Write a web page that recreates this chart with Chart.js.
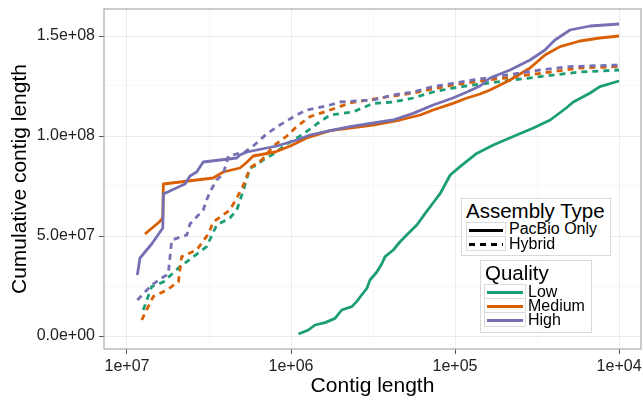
<!DOCTYPE html>
<html>
<head>
<meta charset="utf-8">
<script src="https://cdn.jsdelivr.net/npm/chart.js@4.4.1/dist/chart.umd.min.js"></script>
<style>
    body { margin: 0; background: #fff; }
    #wrap { position: relative; width: 643px; height: 400px; font-family: "Liberation Sans", Arial, sans-serif; }
    .lg-box { position: absolute; border: 1px solid #d9d9d9; background: #fff; }
    .lg-title { position: absolute; font-size: 20.5px; color: #000; white-space: nowrap; line-height: 1; }
    .lg-key { position: absolute; border: 1px solid #dcdcdc; box-sizing: border-box; }
    .lg-label { position: absolute; font-size: 16px; color: #000; white-space: nowrap; line-height: 1; }
</style>
</head>
<body>
<div id="wrap">
    <canvas id="chart" width="643" height="400"></canvas>

    <div class="lg-box" style="left:461px;top:198px;width:148px;height:56px;"></div>
    <div class="lg-title" style="left:466px;top:201px;">Assembly Type</div>
    <div class="lg-key" style="left:466px;top:222px;width:40px;height:15px;">
        <svg width="38" height="13"><line x1="2" y1="6.5" x2="36" y2="6.5" stroke="#000" stroke-width="2.8"/></svg>
    </div>
    <div class="lg-key" style="left:466px;top:236px;width:40px;height:15px;">
        <svg width="38" height="13"><line x1="2" y1="6.5" x2="36" y2="6.5" stroke="#000" stroke-width="2.8" stroke-dasharray="6,5"/></svg>
    </div>
    <div class="lg-label" style="left:509px;top:221px;">PacBio Only</div>
    <div class="lg-label" style="left:509px;top:236px;">Hybrid</div>

    <div class="lg-box" style="left:480px;top:260px;width:110px;height:71px;"></div>
    <div class="lg-title" style="left:485px;top:263px;">Quality</div>
    <div class="lg-key" style="left:484px;top:284px;width:42px;height:15px;">
        <svg width="40" height="13"><line x1="2" y1="6.5" x2="38" y2="6.5" stroke="#1B9E77" stroke-width="2.8"/></svg>
    </div>
    <div class="lg-key" style="left:484px;top:298px;width:42px;height:15px;">
        <svg width="40" height="13"><line x1="2" y1="6.5" x2="38" y2="6.5" stroke="#D95F02" stroke-width="2.8"/></svg>
    </div>
    <div class="lg-key" style="left:484px;top:312px;width:42px;height:15px;">
        <svg width="40" height="13"><line x1="2" y1="6.5" x2="38" y2="6.5" stroke="#7570B3" stroke-width="2.8"/></svg>
    </div>
    <div class="lg-label" style="left:528px;top:284px;">Low</div>
    <div class="lg-label" style="left:528px;top:298px;">Medium</div>
    <div class="lg-label" style="left:528px;top:312px;">High</div>
</div>

<script>
// [contig length, cumulative contig length]
var lowPacbio = [
    [9.0e5, 1.0e6], [7.84e5, 3.0e6], [7.14e5, 5.5e6], [6.2e5, 6.7e6], [5.39e5, 8.8e6],
    [4.91e5, 1.3e7], [4.26e5, 1.47e7], [3.98e5, 1.72e7], [3.71e5, 2.05e7], [3.45e5, 2.38e7],
    [3.3e5, 2.8e7], [3.0e5, 3.2e7], [2.8e5, 3.6e7], [2.67e5, 3.97e7], [2.38e5, 4.3e7],
    [2.17e5, 4.7e7], [1.93e5, 5.13e7], [1.71e5, 5.55e7], [1.52e5, 6.13e7], [1.32e5, 6.8e7],
    [1.23e5, 7.13e7], [1.07e5, 8.05e7], [9.32e4, 8.47e7], [7.38e4, 9.13e7], [5.84e4, 9.55e7],
    [4.21e4, 1.005e8], [3.33e4, 1.04e8], [2.63e4, 1.08e8], [2.1e4, 1.14e8], [1.9e4, 1.17e8],
    [1.5e4, 1.215e8], [1.31e4, 1.247e8], [1.0e4, 1.275e8]
];
var mediumPacbio = [
    [7.77e6, 5.1e7], [6.36e6, 5.7e7], [6.05e6, 5.9e7], [6.0e6, 7.6e7], [2.98e6, 7.9e7],
    [2.59e6, 8.2e7], [2.05e6, 8.4e7], [1.91e6, 8.6e7], [1.7e6, 9.0e7], [1.25e6, 9.2e7],
    [1.01e6, 9.5e7], [8.02e5, 9.9e7], [5.78e5, 1.027e8], [3.16e5, 1.055e8], [2.17e5, 1.08e8],
    [1.63e5, 1.105e8], [1.36e5, 1.13e8], [1.03e5, 1.163e8], [8.45e4, 1.19e8], [7.04e4, 1.21e8],
    [6.12e4, 1.23e8], [4.62e4, 1.28e8], [3.49e4, 1.34e8], [2.83e4, 1.405e8], [2.29e4, 1.447e8],
    [1.73e4, 1.475e8], [1.31e4, 1.49e8], [1.0e4, 1.5e8]
];
var highPacbio = [
    [8.65e6, 3.05e7], [8.33e6, 3.9e7], [7.07e6, 4.6e7], [6.29e6, 5.2e7], [6.05e6, 5.4e7],
    [6.0e6, 7.1e7], [4.43e6, 7.6e7], [4.13e6, 8.0e7], [3.76e6, 8.2e7], [3.43e6, 8.7e7],
    [2.14e6, 8.9e7], [2.05e6, 9.05e7], [1.86e6, 9.2e7], [1.22e6, 9.5e7], [9.23e5, 9.8e7],
    [7.66e5, 1.005e8], [5.78e5, 1.027e8], [4.37e5, 1.047e8], [2.87e5, 1.07e8], [2.39e5, 1.08e8],
    [1.8e5, 1.113e8], [1.36e5, 1.155e8], [1.03e5, 1.19e8], [8.45e4, 1.22e8], [7.04e4, 1.25e8],
    [6.12e4, 1.29e8], [4.62e4, 1.33e8], [3.49e4, 1.38e8], [2.83e4, 1.43e8], [2.46e4, 1.48e8],
    [1.99e4, 1.53e8], [1.5e4, 1.55e8], [1.0e4, 1.56e8]
];
var lowHybrid = [
    [7.96e6, 1.3e7], [7.07e6, 2.47e7], [6.01e6, 2.7e7], [4.75e6, 3.47e7], [4.03e6, 3.9e7],
    [3.27e6, 4.47e7], [2.84e6, 5.55e7], [2.36e6, 5.9e7], [2.14e6, 6.3e7], [1.95e6, 7.3e7],
    [1.78e6, 8.4e7], [1.62e6, 8.55e7], [1.48e6, 8.8e7], [1.28e6, 9.1e7], [1.06e6, 9.6e7],
    [8.41e5, 1.01e8], [6.97e5, 1.06e8], [5.78e5, 1.105e8], [4.19e5, 1.12e8], [3.16e5, 1.163e8],
    [2.39e5, 1.17e8], [1.8e5, 1.19e8], [1.36e5, 1.22e8], [1.03e5, 1.24e8], [7.77e4, 1.255e8],
    [3.03e4, 1.297e8], [1.73e4, 1.32e8], [1.0e4, 1.33e8]
];
var mediumHybrid = [
    [8.13e6, 8.0e6], [6.92e6, 1.97e7], [5.73e6, 2.3e7], [4.86e6, 2.7e7], [4.64e6, 3.97e7],
    [3.76e6, 4.3e7], [3.19e6, 5.1e7], [2.98e6, 5.7e7], [2.36e6, 6.3e7], [2.14e6, 6.9e7],
    [1.95e6, 7.55e7], [1.78e6, 8.4e7], [1.51e6, 8.8e7], [1.28e6, 9.5e7], [1.06e6, 1.0e8],
    [9.23e5, 1.047e8], [7.66e5, 1.097e8], [5.78e5, 1.13e8], [4.37e5, 1.165e8], [2.87e5, 1.19e8],
    [1.8e5, 1.215e8], [1.03e5, 1.255e8], [7.77e4, 1.27e8], [3.03e4, 1.313e8], [1.73e4, 1.34e8],
    [1.0e4, 1.347e8]
];
var highHybrid = [
    [8.65e6, 1.8e7], [7.07e6, 2.55e7], [6.14e6, 2.9e7], [5.6e6, 3.1e7], [5.34e6, 4.8e7],
    [4.32e6, 5.05e7], [4.13e6, 5.6e7], [3.43e6, 6.3e7], [3.27e6, 6.8e7], [3.12e6, 7.2e7],
    [2.84e6, 7.8e7], [2.59e6, 8.1e7], [2.41e6, 9.0e7], [1.91e6, 9.2e7], [1.7e6, 9.5e7],
    [1.41e6, 1.01e8], [1.17e6, 1.055e8], [9.23e5, 1.105e8], [8.02e5, 1.13e8], [5.78e5, 1.155e8],
    [5.03e5, 1.17e8], [3.16e5, 1.18e8], [2.39e5, 1.205e8], [1.8e5, 1.22e8], [1.36e5, 1.247e8],
    [1.03e5, 1.263e8], [7.77e4, 1.28e8], [3.03e4, 1.33e8], [1.99e4, 1.347e8], [1.0e4, 1.355e8]
];

var xTicks = [1e7, 1e6, 1e5, 1e4];
var xTickLabels = ['1e+07', '1e+06', '1e+05', '1e+04'];
var yTicks = [0, 5e7, 1e8, 1.5e8];
var yTickLabels = ['0.0e+00', '5.0e+07', '1.0e+08', '1.5e+08'];

var qualityColors = { low: '#1B9E77', medium: '#D95F02', high: '#7570B3' };

(function () {
    function toPoints(rows) {
        return rows.map(function (r) {
            return { x: r[0], y: r[1] };
        });
    }

    function series(label, rows, color, dashed, order) {
        return {
            label: label,
            data: toPoints(rows),
            borderColor: color,
            backgroundColor: color,
            borderWidth: 2.8,
            borderDash: dashed ? [6, 5] : [],
            borderJoinStyle: 'round',
            pointRadius: 0,
            tension: 0,
            fill: false,
            order: order,
        };
    }

    function isMajorX(v) {
        return xTicks.indexOf(v) !== -1;
    }
    function isMajorY(v) {
        return yTicks.indexOf(v) !== -1;
    }

    // minor breaks sit halfway between majors, like ggplot
    var xAll = [];
    xTicks.forEach(function (v, i) {
        xAll.push(v);
        if (i < xTicks.length - 1) xAll.push(Math.sqrt(v * xTicks[i + 1]));
    });
    xAll.sort(function (a, b) { return a - b; });
    var yAll = [];
    yTicks.forEach(function (v, i) {
        yAll.push(v);
        if (i < yTicks.length - 1) yAll.push((v + yTicks[i + 1]) / 2);
    });

    var panelBorder = {
        id: 'panelBorder',
        afterDatasetsDraw: function (chart) {
            var a = chart.chartArea;
            var ctx = chart.ctx;
            ctx.save();
            ctx.strokeStyle = '#ababab';
            ctx.lineWidth = 1.2;
            ctx.strokeRect(a.left, a.top, a.right - a.left, a.bottom - a.top);
            ctx.restore();
        },
    };

    var tickFont = { family: '"Liberation Sans", Arial, sans-serif', size: 16 };
    var titleFont = { family: '"Liberation Sans", Arial, sans-serif', size: 21 };

    new Chart(document.getElementById('chart'), {
        type: 'line',
        data: {
            datasets: [
                series('Low PacBio Only', lowPacbio, qualityColors.low, false, 5),
                series('Medium PacBio Only', mediumPacbio, qualityColors.medium, false, 3),
                series('High PacBio Only', highPacbio, qualityColors.high, false, 1),
                series('Low Hybrid', lowHybrid, qualityColors.low, true, 4),
                series('Medium Hybrid', mediumHybrid, qualityColors.medium, true, 2),
                series('High Hybrid', highHybrid, qualityColors.high, true, 0),
            ],
        },
        options: {
            responsive: false,
            animation: false,
            layout: { padding: { top: 9, right: 2, left: 0, bottom: 0 } },
            plugins: {
                legend: { display: false },
                tooltip: { enabled: false },
            },
            scales: {
                x: {
                    type: 'logarithmic',
                    position: 'bottom',
                    reverse: true,
                    min: 7.35e3,
                    max: 1.381e7,
                    afterBuildTicks: function (scale) {
                        scale.ticks = xAll.map(function (v) {
                            return { value: v };
                        });
                    },
                    afterFit: function (scale) {
                        scale.height = 51;
                        scale.paddingLeft = 0;
                        scale.paddingRight = 0;
                    },
                    ticks: {
                        autoSkip: false,
                        maxRotation: 0,
                        minRotation: 0,
                        padding: 3,
                        color: '#222',
                        font: tickFont,
                        callback: function (value) {
                            var i = xTicks.indexOf(value);
                            return i === -1 ? '' : xTickLabels[i];
                        },
                    },
                    grid: {
                        color: function (c) {
                            return c.tick && isMajorX(c.tick.value) ? '#ebebeb' : '#f3f3f3';
                        },
                        lineWidth: function (c) {
                            return c.tick && isMajorX(c.tick.value) ? 1 : 0.6;
                        },
                        tickColor: function (c) {
                            return c.tick && isMajorX(c.tick.value) ? '#555' : 'rgba(0,0,0,0)';
                        },
                        tickLength: 5,
                        tickWidth: 1,
                    },
                    border: { display: false },
                    title: {
                        display: true,
                        text: 'Contig length',
                        color: '#000',
                        font: titleFont,
                        padding: { top: 0, bottom: 1 },
                    },
                },
                y: {
                    type: 'linear',
                    position: 'left',
                    min: -6.5e6,
                    max: 1.635e8,
                    afterBuildTicks: function (scale) {
                        scale.ticks = yAll.map(function (v) {
                            return { value: v };
                        });
                    },
                    afterFit: function (scale) {
                        scale.width = 104;
                        scale.paddingTop = 0;
                        scale.paddingBottom = 0;
                    },
                    ticks: {
                        autoSkip: false,
                        padding: 4,
                        color: '#222',
                        font: tickFont,
                        callback: function (value) {
                            var i = yTicks.indexOf(value);
                            return i === -1 ? '' : yTickLabels[i];
                        },
                    },
                    grid: {
                        color: function (c) {
                            return c.tick && isMajorY(c.tick.value) ? '#ebebeb' : '#f3f3f3';
                        },
                        lineWidth: function (c) {
                            return c.tick && isMajorY(c.tick.value) ? 1 : 0.6;
                        },
                        tickColor: function (c) {
                            return c.tick && isMajorY(c.tick.value) ? '#555' : 'rgba(0,0,0,0)';
                        },
                        tickLength: 5,
                        tickWidth: 1,
                    },
                    border: { display: false },
                    title: {
                        display: true,
                        text: 'Cumulative contig length',
                        color: '#000',
                        font: titleFont,
                        padding: { top: 8, bottom: 0 },
                    },
                },
            },
        },
        plugins: [panelBorder],
    });
})();
</script>
</body>
</html>
